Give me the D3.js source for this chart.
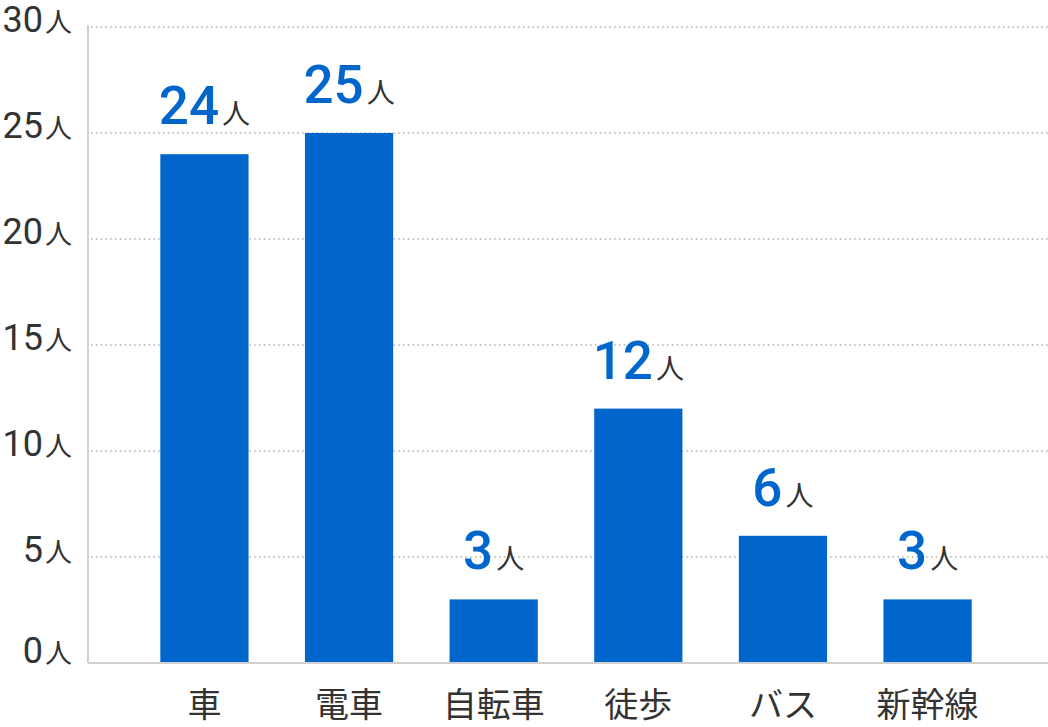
<!DOCTYPE html>
<html>
<head>
<meta charset="utf-8">
<script src="https://cdn.jsdelivr.net/npm/d3@7"></script>
<style>
	body { margin: 0; background: #fff; }
	svg { display: block; }
	text { font-family: Roboto, "Noto Sans CJK JP", sans-serif; }
</style>
</head>
<body>
<div id="chart"></div>
<script>
// data
var categories = ["車", "電車", "自転車", "徒歩", "バス", "新幹線"];
var values = [24, 25, 3, 12, 6, 3];
var yTicks = [0, 5, 10, 15, 20, 25, 30];
var unit = "人";

var width = 1048, height = 727;
var margin = {top: 27, right: 4, bottom: 64, left: 88};

var svg = d3.select("#chart").append("svg")
	.attr("width", width)
	.attr("height", height);

// scales
var x = d3.scaleBand()
	.domain(categories)
	.range([margin.left, width - margin.right])
	.paddingInner(0.39)
	.paddingOuter(0.5);

var y = d3.scaleLinear()
	.domain([0, 30])
	.range([height - margin.bottom, margin.top]);

// dotted grid lines
svg.append("g")
	.selectAll("line")
	.data(yTicks.filter(function (d) { return d > 0; }))
	.join("line")
	.attr("x1", margin.left + 3)
	.attr("x2", width)
	.attr("y1", function (d) { return y(d); })
	.attr("y2", function (d) { return y(d); })
	.attr("stroke", "#b0b0b0")
	.attr("stroke-width", 1.5)
	.attr("stroke-dasharray", "1.5,3.3");

// left axis line
svg.append("line")
	.attr("x1", margin.left)
	.attr("x2", margin.left)
	.attr("y1", margin.top - 2)
	.attr("y2", y(0))
	.attr("stroke", "#d0d0d0")
	.attr("stroke-width", 2);

// y tick labels
var yLabels = svg.append("g")
	.selectAll("text")
	.data(yTicks)
	.join("text")
	.attr("x", 72)
	.attr("y", function (d) { return y(d); })
	.attr("dy", function (d) { return d === 0 ? "0" : "0.34em"; })
	.attr("text-anchor", "end")
	.attr("fill", "#333");
yLabels.append("tspan")
	.attr("font-size", 36)
	.text(function (d) { return d; });
yLabels.append("tspan")
	.attr("font-size", 27)
	.attr("dx", 2)
	.text(unit);

// bars
svg.append("g")
	.selectAll("rect")
	.data(values)
	.join("rect")
	.attr("x", function (d, i) { return x(categories[i]); })
	.attr("y", function (d) { return y(d); })
	.attr("width", x.bandwidth())
	.attr("height", function (d) { return y(0) - y(d); })
	.attr("fill", "#0066cc");

// bottom axis line
svg.append("line")
	.attr("x1", margin.left)
	.attr("x2", width)
	.attr("y1", y(0))
	.attr("y2", y(0))
	.attr("stroke", "#d0d0d0")
	.attr("stroke-width", 2);

// value labels
var vLabels = svg.append("g")
	.selectAll("text")
	.data(values)
	.join("text")
	.attr("x", function (d, i) { return x(categories[i]) + x.bandwidth() / 2; })
	.attr("y", function (d) { return y(d) - 30; })
	.attr("text-anchor", "middle");
vLabels.append("tspan")
	.attr("font-size", 53)
	.attr("font-weight", 500)
	.attr("fill", "#0066cc")
	.text(function (d) { return d; });
vLabels.append("tspan")
	.attr("font-size", 28)
	.attr("dx", 3)
	.attr("fill", "#333")
	.text(unit);

// category labels
svg.append("g")
	.selectAll("text")
	.data(categories)
	.join("text")
	.attr("x", function (d) { return x(d) + x.bandwidth() / 2; })
	.attr("y", 717)
	.attr("text-anchor", "middle")
	.attr("font-size", 34)
	.attr("font-family", "'Noto Sans CJK JP', sans-serif")
	.attr("fill", "#333")
	.text(function (d) { return d; });
</script>
</body>
</html>
